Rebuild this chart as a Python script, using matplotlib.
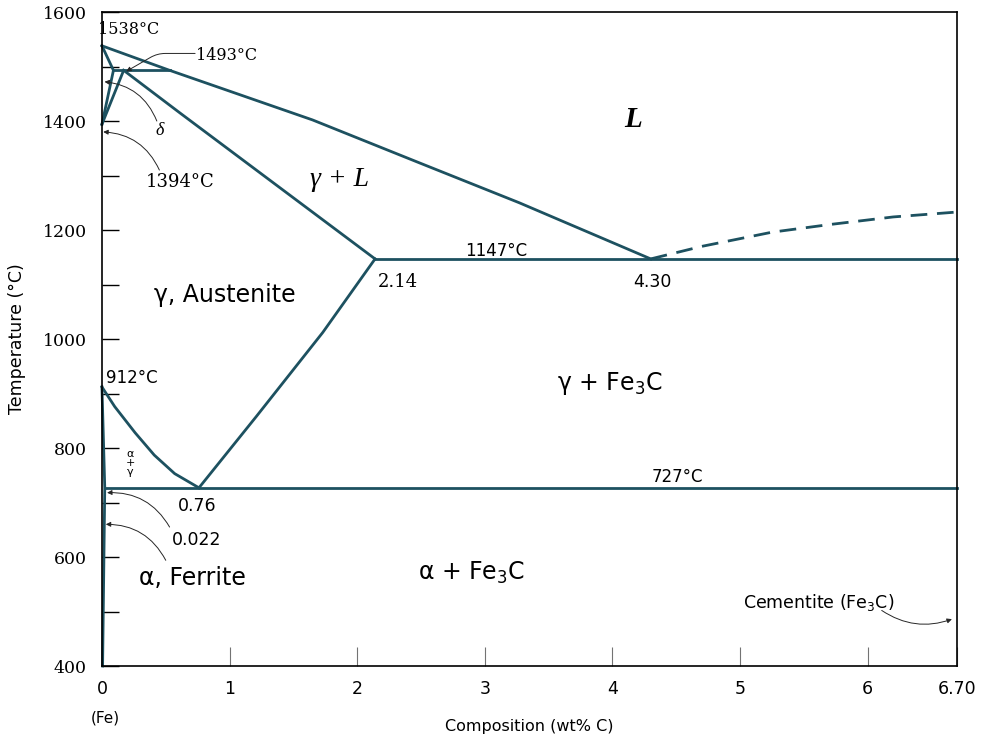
import matplotlib.pyplot as plt

plt.rcParams["font.family"] = ["DejaVu Sans"]
plt.rcParams["mathtext.fontset"] = "dejavusans"

# phase boundaries, composition in wt% C and temperature in degC
liquidus_c = [0, 0.53, 1.65, 2.49, 3.27, 4.30]
liquidus_t = [1538, 1493, 1402, 1323, 1250, 1147]

liquidus_fe3c_c = [4.30, 4.7, 5.25, 5.7, 6.2, 6.70]
liquidus_fe3c_t = [1147, 1170, 1196, 1210, 1224, 1233]

solidus_c = [0.17, 0.61, 2.14]
solidus_t = [1493, 1415, 1147]

delta_c = [0, 0.09, 0]
delta_t = [1538, 1493, 1394]

delta_gamma_c = [0, 0.17]
delta_gamma_t = [1394, 1493]

peritectic_c = [0.09, 0.53]
peritectic_t = [1493, 1493]

eutectic_c = [2.14, 6.70]
eutectic_t = [1147, 1147]

acm_c = [0.76, 1.21, 1.73, 2.14]
acm_t = [727, 858, 1012, 1147]

a3_c = [0, 0.10, 0.26, 0.41, 0.57, 0.76]
a3_t = [912, 876, 828, 787, 753, 727]

ferrite_c = [0, 0.022, 0.005]
ferrite_t = [912, 727, 400]

eutectoid_c = [0.022, 6.70]
eutectoid_t = [727, 727]

x_ticks = [0, 1, 2, 3, 4, 5, 6, 6.70]
x_tick_labels = ["0", "1", "2", "3", "4", "5", "6", "6.70"]
y_ticks = [400, 600, 800, 1000, 1200, 1400, 1600]

line_color = "#1d5160"
lw = 2.0

fig = plt.figure(figsize=(9.86, 7.37), dpi=100)
ax = fig.add_axes([0.1034, 0.0963, 0.8672, 0.8874])

solid = [
    (liquidus_c, liquidus_t), (solidus_c, solidus_t), (delta_c, delta_t),
    (delta_gamma_c, delta_gamma_t), (peritectic_c, peritectic_t),
    (eutectic_c, eutectic_t), (acm_c, acm_t), (a3_c, a3_t),
    (ferrite_c, ferrite_t), (eutectoid_c, eutectoid_t),
]
for c, t in solid:
    ax.plot(c, t, color=line_color, lw=lw, solid_joinstyle="round", clip_on=False)
ax.plot(liquidus_fe3c_c, liquidus_fe3c_t, color=line_color, lw=lw,
        dashes=(6, 3.5))

ax.set_xlim(0, 6.70)
ax.set_ylim(400, 1600)
ax.set_xticks(x_ticks)
ax.set_xticklabels(x_tick_labels, fontsize=12.5)
ax.set_yticks(y_ticks)
ax.set_yticks(range(500, 1600, 200), minor=True)
for lab in ax.get_yticklabels():
    lab.set_fontfamily("DejaVu Serif")
    lab.set_fontsize(12.5)
ax.tick_params(axis="x", direction="in", length=14, width=0.8, color="0.45", pad=10)
ax.tick_params(axis="y", which="both", direction="in", length=12, width=1.0, color="black", pad=11)
for s in ax.spines.values():
    s.set_linewidth(1.2)

ax.set_xlabel("Composition (wt% C)", fontsize=11.5, labelpad=15)
ax.set_ylabel("Temperature (°C)", fontsize=12.5, labelpad=12)
ax.text(0.03, 305, "(Fe)", fontsize=11, ha="center", va="center", clip_on=False)

serif = ["DejaVu Serif"]
ax.text(-0.03, 1567, "1538°C", fontsize=11.5, family=serif, ha="left", va="center")
ax.text(0.74, 1521, "1493°C", fontsize=11.5, family=serif, ha="left", va="center")
ax.text(0.61, 1288, "1394°C", fontsize=13, family=serif, ha="center", va="center")
ax.text(0.45, 1383, "δ", fontsize=13, family=["Liberation Serif"], style="italic",
        ha="center", va="center")
ax.text(2.32, 1105, "2.14", fontsize=13, family=serif, ha="center", va="center")
ax.text(3.09, 1162, "1147°C", fontsize=12, ha="center", va="center")
ax.text(4.31, 1105, "4.30", fontsize=12.5, ha="center", va="center")
ax.text(0.03, 928, "912°C", fontsize=12, ha="left", va="center")
ax.text(0.75, 694, "0.76", fontsize=12.5, ha="center", va="center")
ax.text(4.51, 747, "727°C", fontsize=12, ha="center", va="center")
ax.text(0.74, 631, "0.022", fontsize=12.5, ha="center", va="center")
ax.text(0.22, 772, "α\n+\nγ", fontsize=8, ha="center", va="center", linespacing=0.9)

ax.text(4.16, 1402, "L", fontsize=21, family=["Liberation Serif"], style="italic",
        weight="bold", ha="center", va="center")
ax.text(1.86, 1292, "γ + L", fontsize=20, family=["Liberation Serif"], style="italic",
        ha="center", va="center")
ax.text(0.96, 1081, "γ, Austenite", fontsize=17, ha="center", va="center")
ax.text(3.98, 919, "γ + Fe$_3$C", fontsize=17, ha="center", va="center")
ax.text(2.90, 570, "α + Fe$_3$C", fontsize=17, ha="center", va="center")
ax.text(0.71, 561, "α, Ferrite", fontsize=17, ha="center", va="center")
ax.text(5.62, 516, "Cementite (Fe$_3$C)", fontsize=12.5, ha="center", va="center")

leader = dict(arrowstyle="-|>", color="0.15", lw=0.7, mutation_scale=7,
              shrinkA=0, shrinkB=0)
ax.annotate("", xy=(0.19, 1491), xytext=(0.73, 1524),
            arrowprops=dict(leader, connectionstyle="angle,angleA=0,angleB=30,rad=8"))
ax.annotate("", xy=(0.02, 1472), xytext=(0.43, 1400),
            arrowprops=dict(leader, connectionstyle="arc3,rad=0.3"))
ax.annotate("", xy=(0.01, 1380), xytext=(0.45, 1310),
            arrowprops=dict(leader, connectionstyle="arc3,rad=0.3"))
ax.annotate("", xy=(0.04, 718), xytext=(0.53, 655),
            arrowprops=dict(leader, connectionstyle="arc3,rad=0.3"))
ax.annotate("", xy=(0.03, 660), xytext=(0.50, 594),
            arrowprops=dict(leader, connectionstyle="arc3,rad=0.3"))
ax.annotate("", xy=(6.66, 486), xytext=(6.11, 502),
            arrowprops=dict(leader, connectionstyle="arc3,rad=0.25"))

fig.savefig("out.png", dpi=100)
